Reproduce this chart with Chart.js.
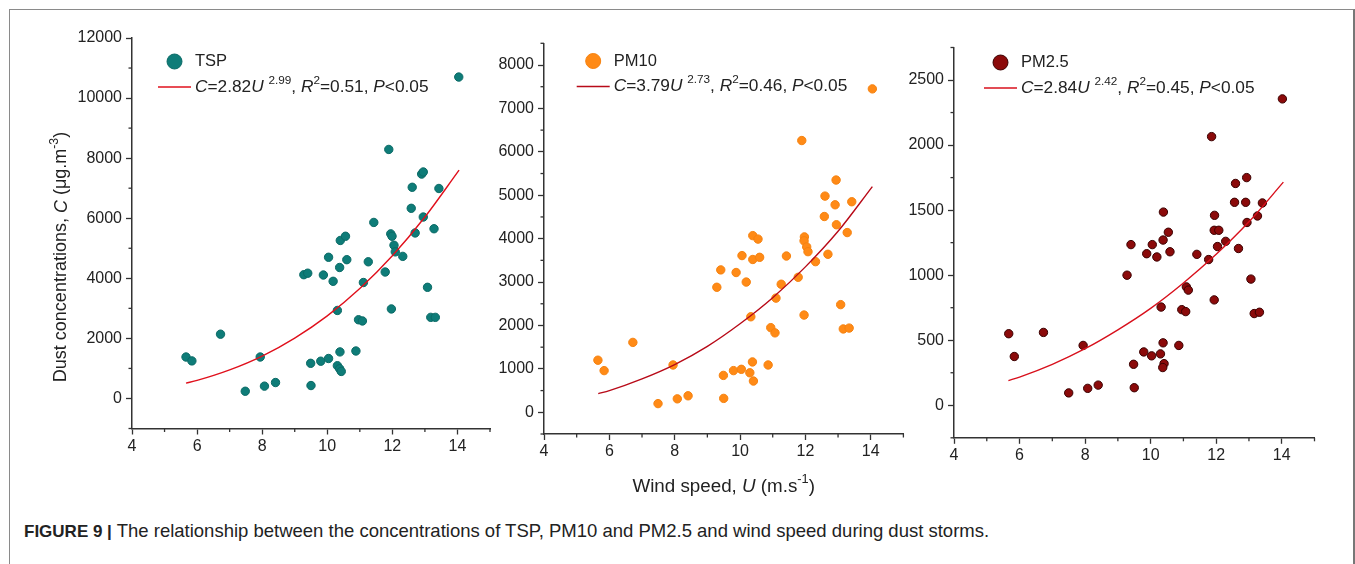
<!DOCTYPE html>
<html>
<head>
    <meta charset="utf-8">
    <title>Dust concentration vs wind speed</title>
    <style>
        body { margin: 0; background: #fff; font-family: "Liberation Sans", Arial, sans-serif; }
        #page { position: relative; width: 1355px; height: 564px; overflow: hidden; background: #fff; }
        #frame { position: absolute; left: 9px; top: 9px; width: 1343px; height: 600px;
                 border: 1px solid #8a8a8a; border-right: 2px solid #777; }
        canvas { position: absolute; top: 0; }
        #caption { position: absolute; left: 24px; top: 519px; font-size: 18.5px; line-height: 24px; color: #222; white-space: nowrap; }
        #caption b { font-size: 17px; }
    </style>
</head>
<body>
<div id="page">
    <div id="frame"></div>
    <canvas id="tspChart" width="500" height="510" style="left:0px;width:500px;height:510px"></canvas>
    <canvas id="pm10Chart" width="440" height="510" style="left:480px;width:440px;height:510px"></canvas>
    <canvas id="pm25Chart" width="465" height="510" style="left:890px;width:465px;height:510px"></canvas>
    <div id="caption"><b>FIGURE 9 |</b> The relationship between the concentrations of TSP, PM10 and PM2.5 and wind speed during dust storms.</div>
</div>

<script src="https://cdn.jsdelivr.net/npm/chart.js"></script>
<script>
    // wind speed U (m/s) and dust concentration C (ug/m3)
    const tspU = [5.66, 5.84, 6.72, 7.48, 7.94, 8.07, 8.41, 9.28, 9.40, 9.49, 9.50, 9.80, 9.88, 10.04, 10.04, 10.18,
        10.31, 10.38, 10.43, 10.31, 10.38, 10.40, 10.56, 10.39, 10.60, 10.88, 10.96, 11.08, 11.11, 11.26, 11.43, 11.78,
        11.89, 11.97, 11.95, 11.99, 12.05, 12.09, 12.32, 12.58, 12.61, 12.70, 12.90, 12.95, 12.95, 13.08, 13.28, 13.18,
        13.32, 13.43, 14.04];
    const tspC = [1380, 1250, 2140, 240, 1380, 410, 530, 4120, 4170, 1170, 430, 1240, 4110, 4700, 1330, 3900,
        1090, 990, 900, 2930, 4360, 5260, 5400, 1550, 4620, 1580, 2620, 2580, 3860, 4550, 5860, 4210,
        8290, 2980, 5480, 5400, 5100, 4880, 4730, 6330, 7030, 5510, 7470, 7540, 6040, 3700, 5650, 2700,
        2700, 6990, 10700];

    const pm10U = [5.65, 5.84, 6.72, 7.49, 7.95, 8.08, 8.41, 9.29, 9.41, 9.49, 9.50, 9.80, 9.88, 10.04, 10.06, 10.19,
        10.30, 10.33, 10.38, 10.41, 10.39, 10.39, 10.55, 10.60, 10.86, 10.94, 11.07, 11.10, 11.26, 11.42, 11.78,
        11.89, 11.96, 11.97, 11.96, 12.04, 12.08, 12.31, 12.58, 12.60, 12.69, 12.91, 12.94, 12.95, 13.08, 13.28,
        13.16, 13.34, 13.42, 14.05];
    const pm10C = [1200, 960, 1610, 200, 1090, 310, 380, 2880, 3280, 850, 320, 960, 3220, 990, 3610, 3000,
        910, 2200, 1160, 720, 3520, 4070, 3990, 3570, 1090, 1950, 1830, 2630, 2950, 3600, 3110,
        6260, 2240, 4040, 3950, 3810, 3700, 3470, 4510, 4980, 3640, 4780, 5350, 4320, 2480, 4140,
        1920, 1940, 4850, 7450];

    const pm25U = [5.67, 5.84, 6.73, 7.50, 7.94, 8.08, 8.40, 9.28, 9.40, 9.48, 9.50, 9.79, 9.88, 10.03, 10.05, 10.19,
        10.30, 10.32, 10.38, 10.41, 10.37, 10.39, 10.38, 10.54, 10.59, 10.86, 10.95, 11.07, 11.09, 11.15, 11.41,
        11.77, 11.86, 11.94, 11.95, 11.94, 12.08, 12.04, 12.29, 12.56, 12.59, 12.68, 12.93, 12.90, 12.94, 13.06,
        13.26, 13.16, 13.32, 13.41, 14.02];
    const pm25C = [550, 375, 560, 95, 460, 130, 155, 1000, 1235, 315, 135, 410, 1165, 380, 1235, 1140,
        395, 755, 480, 320, 290, 1485, 1270, 1330, 1180, 460, 735, 720, 910, 885, 1160,
        1120, 2065, 810, 1460, 1345, 1345, 1220, 1260, 1560, 1705, 1205, 1750, 1560, 1405, 970,
        1455, 705, 715, 1555, 2355];

    // fitted power curves, sampled from the red lines
    const fitU = [5.66, 6, 7, 8, 9, 10, 11, 12, 13, 14.05];
    const tspFit = [510, 600, 950, 1410, 2010, 2750, 3660, 4750, 6040, 7600];
    const pm10Fit = [430, 500, 770, 1100, 1520, 2040, 2640, 3350, 4170, 5200];
    const pm25Fit = [190, 217, 315, 435, 580, 745, 940, 1160, 1410, 1715];

    const FONT = '"Liberation Sans", Arial, sans-serif';

    function pairs(xs, ys) {
        return xs.map((x, i) => ({x: x, y: ys[i]}));
    }

    // text runs: ['text', ''|'i'|'s']  (s = superscript)
    function richWidth(ctx, runs, size) {
        let w = 0;
        runs.forEach(([t, st]) => {
            ctx.font = (st === 'i' ? 'italic ' : '') + (st === 's' ? size * 0.68 : size) + 'px ' + FONT;
            w += ctx.measureText(t).width;
        });
        return w;
    }

    function drawRich(ctx, runs, x, y, size) {
        ctx.textBaseline = 'middle';
        ctx.textAlign = 'left';
        let cx = x;
        runs.forEach(([t, st]) => {
            const fs = st === 's' ? size * 0.68 : size;
            ctx.font = (st === 'i' ? 'italic ' : '') + fs + 'px ' + FONT;
            ctx.fillText(t, cx, st === 's' ? y - size * 0.38 : y);
            cx += ctx.measureText(t).width;
        });
    }

    const decor = {
        id: 'decor',
        afterDraw(chart, args, o) {
            const ctx = chart.ctx;
            const a = chart.chartArea;
            ctx.save();

            // short minor ticks
            ctx.strokeStyle = '#333';
            ctx.lineWidth = 1.3;
            const xs = chart.scales.x, ys = chart.scales.y;
            xs.ticks.forEach((t, i) => {
                if (t.label !== '') return;
                const px = xs.getPixelForTick(i);
                ctx.beginPath(); ctx.moveTo(px, a.bottom); ctx.lineTo(px, a.bottom + 3.5); ctx.stroke();
            });
            ys.ticks.forEach((t, i) => {
                if (t.label !== '') return;
                const py = ys.getPixelForTick(i);
                ctx.beginPath(); ctx.moveTo(a.left, py); ctx.lineTo(a.left - 3.5, py); ctx.stroke();
            });

            // legend
            const lx = a.left + o.legendDx;
            const y1 = o.legendY, y2 = o.legendY + 25.5;
            ctx.beginPath();
            ctx.arc(lx + 16.5, y1, 7.5, 0, Math.PI * 2);
            ctx.fillStyle = o.color;
            ctx.fill();
            ctx.strokeStyle = o.edge;
            ctx.lineWidth = 1;
            ctx.stroke();
            ctx.fillStyle = '#222';
            drawRich(ctx, [[o.name, '']], lx + 37, y1, 16.5);

            ctx.strokeStyle = o.lineColor;
            ctx.lineWidth = 1.5;
            ctx.beginPath(); ctx.moveTo(lx, y2); ctx.lineTo(lx + 33, y2); ctx.stroke();
            drawRich(ctx, [['C', 'i'], ['=' + o.a, ''], ['U', 'i'], [' ', ''], [o.b, 's'], [', ', ''],
                ['R', 'i'], ['2', 's'], ['=' + o.r2 + ', ', ''], ['P', 'i'], ['<0.05', '']], lx + 37, y2, 17.3);

            // axis titles
            if (o.yTitle) {
                const runs = [['Dust concentrations, ', ''], ['C', 'i'], [' (\u03bcg.m', ''], ['-3', 's'], [')', '']];
                const w = richWidth(ctx, runs, 18);
                ctx.translate(61.5, 257);
                ctx.rotate(-Math.PI / 2);
                drawRich(ctx, runs, -w / 2, 0, 18);
                ctx.setTransform(1, 0, 0, 1, 0, 0);
            }
            if (o.xTitle) {
                const runs = [['Wind speed, ', ''], ['U', 'i'], [' (m.s', ''], ['-1', 's'], [')', '']];
                const w = richWidth(ctx, runs, 18.8);
                drawRich(ctx, runs, (a.left + a.right) / 2 - w / 2, 487, 18.8);
            }
            ctx.restore();
        }
    };

    function makePanel(id, p) {
        const tickColor = c => (c.tick && c.tick.label !== '') ? '#333' : 'rgba(0,0,0,0)';
        return new Chart(document.getElementById(id), {
            type: 'scatter',
            data: {
                datasets: [
                    {
                        label: p.legend.name,
                        data: pairs(p.u, p.c),
                        backgroundColor: p.legend.color,
                        borderColor: p.legend.edge,
                        borderWidth: 1,
                        pointRadius: 4.2,
                        pointHoverRadius: 4.2,
                        order: 2
                    },
                    {
                        type: 'line',
                        label: 'fit',
                        data: pairs(fitU, p.fit),
                        borderColor: p.legend.lineColor,
                        borderWidth: 1.4,
                        pointRadius: 0,
                        fill: false,
                        cubicInterpolationMode: 'monotone',
                        order: 1
                    }
                ]
            },
            options: {
                responsive: false,
                animation: false,
                events: [],
                layout: {padding: p.pad},
                plugins: {legend: {display: false}, tooltip: {enabled: false}, decor: p.legend},
                scales: {
                    x: {
                        type: 'linear', min: 4, max: 15,
                        afterFit: s => { s.height = 30; },
                        ticks: {
                            stepSize: 1, autoSkip: false, maxRotation: 0, padding: 2, color: '#222',
                            font: {size: 16, family: FONT},
                            callback: v => (v % 2 === 0 && v <= 14) ? String(v) : ''
                        },
                        grid: {drawOnChartArea: false, tickLength: 6, tickColor: tickColor, tickWidth: 1.3},
                        border: {color: '#333', width: 1.5}
                    },
                    y: {
                        type: 'linear', min: p.yMin, max: p.yMax,
                        afterFit: s => { s.width = p.yW; },
                        ticks: {
                            stepSize: p.yStep, autoSkip: false, padding: 4, color: '#222',
                            font: {size: 16, family: FONT},
                            callback: v => (v >= 0 && v % p.yLab === 0) ? String(v) : ''
                        },
                        grid: {drawOnChartArea: false, tickLength: 6, tickColor: tickColor, tickWidth: 1.3},
                        border: {color: '#333', width: 1.5}
                    }
                }
            },
            plugins: [decor]
        });
    }

    makePanel('tspChart', {
        u: tspU, c: tspC, fit: tspFit,
        yMin: -1000, yMax: 12000, yStep: 1000, yLab: 2000, yW: 132,
        pad: {left: 0, right: 10, top: 38, bottom: 51.5},
        legend: {name: 'TSP', color: '#0e7c78', edge: '#0b6a66', lineColor: '#e0101c',
            a: '2.82', b: '2.99', r2: '0.51', legendDx: 26, legendY: 61.5, yTitle: true}
    });

    makePanel('pm10Chart', {
        u: pm10U, c: pm10C, fit: pm10Fit,
        yMin: -500, yMax: 8500, yStep: 500, yLab: 1000, yW: 64,
        pad: {left: 0, right: 16.6, top: 43.3, bottom: 46},
        legend: {name: 'PM10', color: '#ff8a16', edge: '#f58210', lineColor: '#b80a18',
            a: '3.79', b: '2.73', r2: '0.46', legendDx: 32.7, legendY: 61, xTitle: true}
    });

    makePanel('pm25Chart', {
        u: pm25U, c: pm25C, fit: pm25Fit,
        yMin: -250, yMax: 2750, yStep: 250, yLab: 500, yW: 64,
        pad: {left: 0, right: 40.5, top: 47.5, bottom: 42.2},
        legend: {name: 'PM2.5', color: '#8b0a0a', edge: '#3a0000', lineColor: '#d8101c',
            a: '2.84', b: '2.42', r2: '0.45', legendDx: 30, legendY: 62.5}
    });
</script>
</body>
</html>
